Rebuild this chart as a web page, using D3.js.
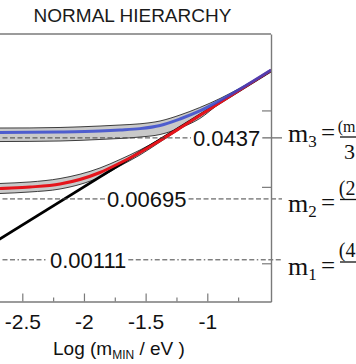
<!DOCTYPE html>
<html><head><meta charset="utf-8">
<script src="https://cdn.jsdelivr.net/npm/d3@7/dist/d3.min.js"></script>
<style>html,body{margin:0;padding:0;background:#fff;overflow:hidden}</style>
</head><body>
<svg id="c" width="356" height="364"></svg>
<script>
// ---- data (log10 of masses in eV) ----
const title = "NORMAL HIERARCHY";
const xMajorTicks = [-2.5, -2, -1.5, -1];
const xMinorTicks = [-2.75, -2.25, -1.75, -1.25, -0.75];
const yTicks = [-3, -2, -1];
const logMmin = [-2.762, -2.681, -2.438, -2.194, -1.870, -1.708, -1.546, -1.383, -1.221, -1.061, -0.897, -0.734, -0.483];
const logM3 = [-1.290, -1.289, -1.287, -1.282, -1.269, -1.256, -1.238, -1.197, -1.112, -1.007, -0.870, -0.720, -0.471];
const logM3Hi = [-1.232, -1.230, -1.229, -1.223, -1.204, -1.191, -1.175, -1.138, -1.060, -0.962, -0.844, -0.707, -0.468];
const logM3Lo = [-1.410, -1.407, -1.405, -1.400, -1.380, -1.367, -1.348, -1.315, -1.230, -1.106, -0.903, -0.733, -0.478];
const logM2 = [-2.028, -2.021, -2.002, -1.963, -1.812, -1.688, -1.550, -1.393, -1.230, -1.066, -0.896, -0.730, -0.475];
const logM2Hi = [-1.963, -1.956, -1.936, -1.891, -1.753, -1.642, -1.518, -1.374, -1.217, -1.057, -0.890, -0.726, -0.474];
const logM2Lo = [-2.093, -2.087, -2.067, -2.028, -1.871, -1.727, -1.583, -1.413, -1.243, -1.076, -0.903, -0.733, -0.476];
const m1X = [-2.9, -0.483];
const m1Y = [-2.9, -0.483];
const levelValues = [0.0437, 0.00695, 0.00111];
const levelLabels = ["0.0437", "0.00695", "0.00111"];
const massNames = ["3", "2", "1"];
const massNumerators = ["(m", "(2", "(4"];
const massDenominators = ["3", "", ""];

// ---- layout ----
const W = 356, H = 364;
const pTop = 34, pBottom = 301.5, pRight = 271;
const pxPerX = 123.33;
const x = d3.scaleLinear().domain([-3.0, -0.483]).range([22.3 - 0.5 * pxPerX, 22.3 + 2.017 * pxPerX]);
const y = d3.scaleLinear().domain([-3.5, 0]).range([pBottom, pTop]);
const sans = "'Liberation Sans', Arial, Helvetica, sans-serif";
const serif = "'Liberation Serif', 'Times New Roman', serif";

const svg = d3.select("#c");
svg.append("rect").attr("width", W).attr("height", H).attr("fill", "#fff");

svg.append("defs").append("clipPath").attr("id", "plot")
  .append("rect").attr("x", -60).attr("y", pTop).attr("width", pRight + 60).attr("height", pBottom - pTop);

// title
svg.append("text").attr("x", 132.5).attr("y", 22).attr("text-anchor", "middle")
  .attr("font-family", sans).attr("font-size", 19).attr("fill", "#1a1a1a").text(title);

const g = svg.append("g").attr("clip-path", "url(#plot)");

const idx = d3.range(logMmin.length);
const area = (hi, lo) => d3.area().curve(d3.curveMonotoneX)
  .x(i => x(logMmin[i])).y0(i => y(lo[i])).y1(i => y(hi[i]));
const line = arr => d3.line().curve(d3.curveMonotoneX).x(i => x(logMmin[i])).y(i => y(arr[i]));

// bands
[[logM3Hi, logM3Lo], [logM2Hi, logM2Lo]].forEach(([hi, lo]) => {
  g.append("path").datum(idx).attr("d", area(hi, lo)).attr("fill", "#c9c9c9");
  g.append("path").datum(idx).attr("d", line(hi)).attr("fill", "none").attr("stroke", "#2a2a2a").attr("stroke-width", 0.9);
  g.append("path").datum(idx).attr("d", line(lo)).attr("fill", "none").attr("stroke", "#2a2a2a").attr("stroke-width", 0.9);
});

// horizontal reference lines with labels
const dashes = ["5,2.5", "5,2.5", "5,2.5,5,2.5,5,2.5,1.5,2.5"];
const labelStart = [193, 107, 50];
const lineEnd = 282;
levelValues.forEach((v, i) => {
  const yy = y(Math.log10(v));
  const t = svg.append("text").attr("x", labelStart[i]).attr("y", yy).attr("dy", "0.36em")
    .attr("font-family", sans).attr("font-size", 22).attr("fill", "#111").text(levelLabels[i]);
  const w = t.node().getComputedTextLength();
  svg.append("line").attr("x1", -5).attr("x2", labelStart[i] - 2).attr("y1", yy).attr("y2", yy)
    .attr("stroke", "#444").attr("stroke-width", 1).attr("stroke-dasharray", dashes[i]);
  svg.append("line").attr("x1", labelStart[i] + w + 2).attr("x2", lineEnd).attr("y1", yy).attr("y2", yy)
    .attr("stroke", "#444").attr("stroke-width", 1).attr("stroke-dasharray", i === 0 ? null : dashes[i]);
});

// curves
g.append("path").datum([0, 1]).attr("d", d3.line().x(i => x(m1X[i])).y(i => y(m1Y[i])))
  .attr("fill", "none").attr("stroke", "#000").attr("stroke-width", 2.6);
g.append("path").datum(idx).attr("d", line(logM2)).attr("fill", "none").attr("stroke", "#e5141b").attr("stroke-width", 3);
g.append("path").datum(idx).attr("d", line(logM3)).attr("fill", "none").attr("stroke", "#3346d0").attr("stroke-width", 3).attr("stroke-opacity", 0.82);

// axes
const axColor = "#7a7a7a";
const xAxis = svg.append("g").attr("transform", `translate(0,${pBottom})`)
  .call(d3.axisBottom(x).tickValues(xMajorTicks).tickSizeInner(-8).tickSizeOuter(0).tickPadding(13).tickFormat(d3.format(".1~f")));
xAxis.select(".domain").attr("stroke", axColor).attr("stroke-width", 1.4);
xAxis.selectAll(".tick line").attr("stroke", axColor).attr("stroke-width", 1.2);
xAxis.selectAll(".tick text").attr("font-family", sans).attr("font-size", 21).attr("fill", "#111")
  .text(d => String(d));
const xMinor = svg.append("g").attr("transform", `translate(0,${pBottom})`)
  .call(d3.axisBottom(x).tickValues(xMinorTicks).tickSizeInner(-4).tickSizeOuter(0).tickFormat(""));
xMinor.select(".domain").remove();
xMinor.selectAll(".tick line").attr("stroke", axColor).attr("stroke-width", 1.2);

const yAxis = svg.append("g").attr("transform", `translate(${pRight},0)`)
  .call(d3.axisRight(y).tickValues(yTicks).tickSizeInner(-9).tickSizeOuter(0).tickFormat(""));
yAxis.select(".domain").attr("stroke", axColor).attr("stroke-width", 1.4);
yAxis.selectAll(".tick line").attr("stroke", axColor).attr("stroke-width", 1.2);

// top frame
svg.append("line").attr("x1", -5).attr("x2", pRight).attr("y1", pTop).attr("y2", pTop)
  .attr("stroke", axColor).attr("stroke-width", 1.4);

// x label
const xl = svg.append("text").attr("x", 53).attr("y", 355).attr("font-family", sans).attr("font-size", 19).attr("fill", "#111");
xl.append("tspan").text("Log (m");
xl.append("tspan").attr("font-size", 12).attr("dy", 4).text("MIN");
xl.append("tspan").attr("dy", -4).text(" / eV )");

// mass labels on the right
const mBase = [142, 212, 275];
const barY = [137, 199.5, 262];
massNames.forEach((n, i) => {
  const t = svg.append("text").attr("x", 288).attr("y", mBase[i]).attr("font-family", serif).attr("font-size", 26).attr("fill", "#111");
  t.append("tspan").text("m");
  t.append("tspan").attr("font-size", 17).attr("dy", 5).text(n);
  svg.append("text").attr("x", 321).attr("y", mBase[i] - 1).attr("font-family", serif).attr("font-size", 25).attr("fill", "#111").text("=");
  svg.append("line").attr("x1", 340).attr("x2", 356).attr("y1", barY[i]).attr("y2", barY[i]).attr("stroke", "#111").attr("stroke-width", 1.3);
  svg.append("text").attr("x", 355.5).attr("y", barY[i] - 5).attr("text-anchor", "end").attr("font-family", serif)
    .attr("font-size", i === 0 ? 16 : 20).attr("fill", "#111").text(massNumerators[i]);
  if (massDenominators[i]) svg.append("text").attr("x", 355).attr("y", barY[i] + 22).attr("text-anchor", "end")
    .attr("font-family", serif).attr("font-size", 22).attr("fill", "#111").text(massDenominators[i]);
});
</script>
</body></html>
